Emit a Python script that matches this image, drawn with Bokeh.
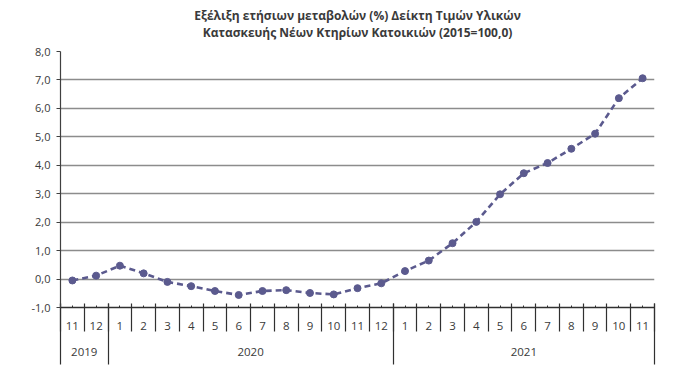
from bokeh.plotting import figure
from bokeh.models import Range1d, FixedTicker, LinearAxis, Title
from bokeh.embed import file_html
from bokeh.resources import INLINE

# ---- data ----
months = ["11", "12", "1", "2", "3", "4", "5", "6", "7", "8", "9", "10", "11", "12",
          "1", "2", "3", "4", "5", "6", "7", "8", "9", "10", "11"]
years = ["2019", "2020", "2021"]
year_counts = [2, 12, 11]
values = [-0.05, 0.12, 0.47, 0.20, -0.10, -0.25, -0.42, -0.56, -0.42, -0.39, -0.49, -0.54,
          -0.32, -0.15, 0.28, 0.65, 1.26, 2.01, 2.98, 3.72, 4.08, 4.58, 5.11, 6.36, 7.06]
y_ticks = [-1, 0, 1, 2, 3, 4, 5, 6, 7, 8]
title_lines = ["Εξέλιξη ετήσιων μεταβολών (%) Δείκτη Τιμών Υλικών",
               "Κατασκευής Νέων Κτηρίων Κατοικιών (2015=100,0)"]

n = len(months)
xs = list(range(1, n + 1))
boundaries = [i + 0.5 for i in range(n + 1)]

# year boundaries / centers
yb = [0.5]
for c in year_counts:
    yb.append(yb[-1] + c)
year_centers = [(yb[i] + yb[i + 1]) / 2 for i in range(len(years))]

FONT = "Open Sans"
TXT = "#3a3a3a"
LINE_COLOR = "#5b5a8e"

p = figure(width=692, height=371, output_backend="svg", toolbar_location=None,
           x_range=Range1d(0.5, n + 0.5), y_range=Range1d(-1, 8),
           x_axis_location=None, y_axis_location=None,
           min_border_left=60, min_border_right=38, min_border_top=51, min_border_bottom=64)
p.outline_line_color = None
p.background_fill_color = "white"
p.title = None

# titles (added nearest-first)
p.add_layout(Title(text=title_lines[1], align="center", text_font=FONT, text_font_size="12px",
                   text_font_style="bold", text_color=TXT, standoff=22), "above")
p.add_layout(Title(text=title_lines[0], align="center", text_font=FONT, text_font_size="12px",
                   text_font_style="bold", text_color=TXT, standoff=-26), "above")

# y axis
yaxis = LinearAxis(ticker=FixedTicker(ticks=y_ticks, minor_ticks=[]),
                   major_label_overrides={t: f"{t:.1f}".replace(".", ",") for t in y_ticks})
yaxis.axis_line_color = "#404040"
yaxis.axis_line_width = 1.2
yaxis.major_tick_in = 0
yaxis.major_tick_out = 4
yaxis.major_tick_line_color = "#404040"
yaxis.minor_tick_line_color = None
yaxis.major_label_standoff = 6
yaxis.major_label_text_font = FONT
yaxis.major_label_text_font_size = "11px"
yaxis.major_label_text_color = TXT
p.add_layout(yaxis, "left")

# month axis: labels at centers, separators (minor ticks) at boundaries
xaxis = LinearAxis(ticker=FixedTicker(ticks=xs, minor_ticks=boundaries),
                   major_label_overrides={x: m for x, m in zip(xs, months)})
xaxis.axis_line_color = "#303030"
xaxis.axis_line_width = 1.5
xaxis.major_tick_in = 2
xaxis.major_tick_out = 0
xaxis.major_tick_line_color = "#303030"
xaxis.minor_tick_in = 4
xaxis.minor_tick_out = 24
xaxis.minor_tick_line_color = "#303030"
xaxis.minor_tick_line_width = 1.2
xaxis.major_label_standoff = -10
xaxis.major_label_text_font = FONT
xaxis.major_label_text_font_size = "11.5px"
xaxis.major_label_text_color = TXT
p.add_layout(xaxis, "below")

# year axis: labels at year centers, separators at year boundaries
yraxis = LinearAxis(ticker=FixedTicker(ticks=year_centers, minor_ticks=yb),
                    major_label_overrides={c: y for c, y in zip(year_centers, years)})
yraxis.axis_line_color = None
yraxis.major_tick_line_color = None
yraxis.major_tick_in = 0
yraxis.major_tick_out = 0
yraxis.minor_tick_in = 29
yraxis.minor_tick_out = 32
yraxis.minor_tick_line_color = "#303030"
yraxis.minor_tick_line_width = 1.2
yraxis.major_label_standoff = -17
yraxis.major_label_text_font = FONT
yraxis.major_label_text_font_size = "11.5px"
yraxis.major_label_text_color = TXT
p.add_layout(yraxis, "below")

# grid
p.ygrid.ticker = FixedTicker(ticks=[t for t in y_ticks if t > -1])
p.ygrid.grid_line_color = "#8c8c8c"
p.ygrid.grid_line_width = 1.5
p.xgrid.grid_line_color = None

# series
p.line(xs, values, line_color=LINE_COLOR, line_width=2.6, line_dash="6 4")
p.scatter(xs, values, size=7, fill_color=LINE_COLOR, line_color=LINE_COLOR)

open("out.html", "w").write(file_html(p, INLINE))
